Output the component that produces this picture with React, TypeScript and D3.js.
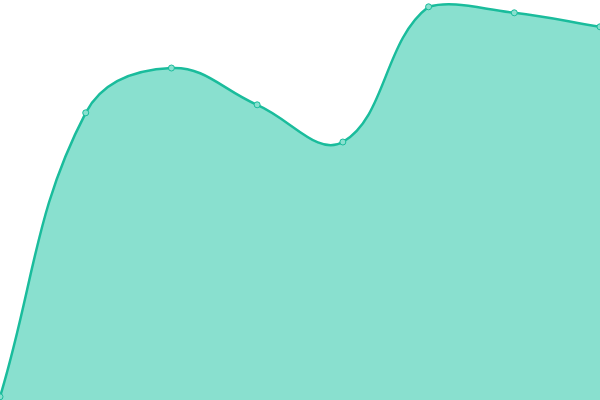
import React, { useEffect, useRef } from "react";
import * as d3 from "d3";

const categories = ["A", "B", "C", "D", "E", "F", "G", "H"];
const values = [0.8, 71.8, 83, 73.8, 64.5, 98.3, 96.8, 93.3];

const WIDTH = 600, HEIGHT = 400;

// spline with tension, control points weighted by segment length and kept inside the plot
function splineCurve(tension: number) {
  return (context: any) => {
    let line: number = NaN;
    let pts: [number, number][] = [];
    const clamp = (v: number, lo: number, hi: number) => Math.max(lo, Math.min(hi, v));
    return {
      areaStart() { line = 0; },
      areaEnd() { line = NaN; },
      lineStart() { pts = []; },
      point(x: number, y: number) { pts.push([+x, +y]); },
      lineEnd() {
        const n = pts.length;
        if (n) {
          if (line) context.lineTo(pts[0][0], pts[0][1]);
          else context.moveTo(pts[0][0], pts[0][1]);
          const cpPrev: [number, number][] = [];
          const cpNext: [number, number][] = [];
          for (let i = 0; i < n; i++) {
            const prev = pts[Math.max(0, i - 1)];
            const cur = pts[i];
            const next = pts[Math.min(n - 1, i + 1)];
            const d01 = Math.hypot(cur[0] - prev[0], cur[1] - prev[1]);
            const d12 = Math.hypot(next[0] - cur[0], next[1] - cur[1]);
            let s01 = d01 / (d01 + d12);
            let s12 = d12 / (d01 + d12);
            if (isNaN(s01)) s01 = 0;
            if (isNaN(s12)) s12 = 0;
            const fa = tension * s01, fb = tension * s12;
            cpPrev[i] = [
              clamp(cur[0] - fa * (next[0] - prev[0]), 0, WIDTH),
              clamp(cur[1] - fa * (next[1] - prev[1]), 0, HEIGHT),
            ];
            cpNext[i] = [
              clamp(cur[0] + fb * (next[0] - prev[0]), 0, WIDTH),
              clamp(cur[1] + fb * (next[1] - prev[1]), 0, HEIGHT),
            ];
          }
          for (let i = 1; i < n; i++) {
            context.bezierCurveTo(
              cpNext[i - 1][0], cpNext[i - 1][1],
              cpPrev[i][0], cpPrev[i][1],
              pts[i][0], pts[i][1]
            );
          }
        }
        if (line || (line !== 0 && n === 1)) context.closePath();
        line = 1 - line;
      },
    };
  };
}

export default function App() {
  const svgRef = useRef<SVGSVGElement | null>(null);

  useEffect(() => {
    document.body.style.margin = "0";
    if (!svgRef.current) return;
    const data = categories.map((c, i) => ({ c, v: values[i] }));

    const x = d3.scalePoint().domain(categories).range([0, WIDTH]);
    const y = d3.scaleLinear().domain([0, 100]).range([HEIGHT, 0]);
    const curve = splineCurve(0.4) as any;

    const svg = d3.select(svgRef.current);
    svg.selectAll("*").remove();

    const area = d3.area<{ c: string; v: number }>()
      .x(d => x(d.c) as number)
      .y0(HEIGHT)
      .y1(d => y(d.v))
      .curve(curve);

    const line = d3.line<{ c: string; v: number }>()
      .x(d => x(d.c) as number)
      .y(d => y(d.v))
      .curve(curve);

    svg.append("path")
      .datum(data)
      .attr("d", area)
      .attr("fill", "#89e0cf");

    svg.append("path")
      .datum(data)
      .attr("d", line)
      .attr("fill", "none")
      .attr("stroke", "#1abc9c")
      .attr("stroke-width", 2.5);

    svg.selectAll("circle")
      .data(data)
      .enter()
      .append("circle")
      .attr("cx", d => x(d.c) as number)
      .attr("cy", d => y(d.v))
      .attr("r", 3)
      .attr("fill", "#89e0cf")
      .attr("stroke", "#1abc9c")
      .attr("stroke-width", 1);
  }, []);

  return (
    <svg ref={svgRef} width={WIDTH} height={HEIGHT} style={{ display: "block" }}></svg>
  );
}
